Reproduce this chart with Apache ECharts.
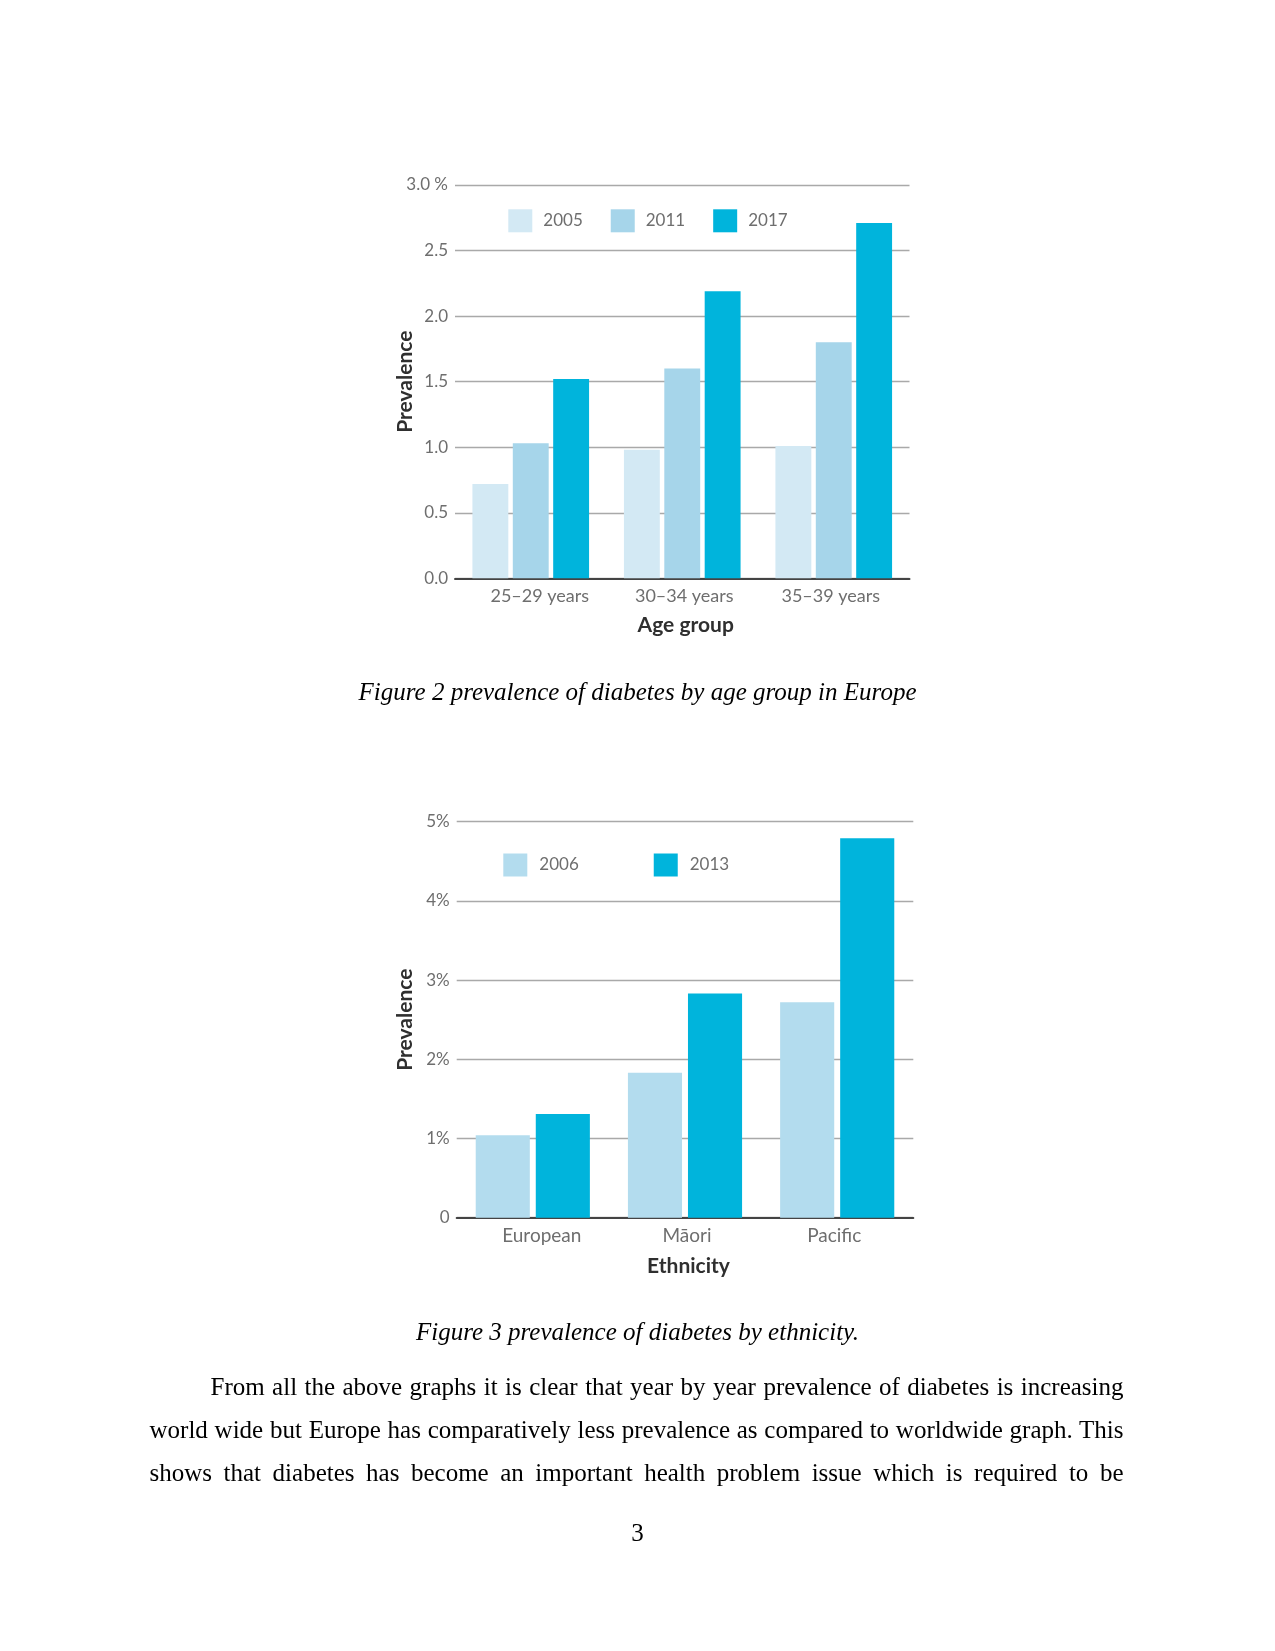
<!DOCTYPE html>
<html>
<head>
<meta charset="utf-8">
<script src="https://cdn.jsdelivr.net/npm/echarts@6/dist/echarts.min.js"></script>
<style>
  html, body { margin: 0; padding: 0; background: #ffffff; }
  #page { position: relative; width: 1275px; height: 1651px; overflow: hidden; }
  #chart { position: absolute; left: 0; top: 0; width: 1275px; height: 1651px; }
  .serif { position: absolute; font-family: "Liberation Serif", "DejaVu Serif", serif; font-size: 25px; color: #000; white-space: nowrap; }
  .caption { font-style: italic; left: 0; width: 1275px; text-align: center; }
  .pagenum { left: 0; width: 1275px; text-align: center; }
  .line { left: 149.5px; width: 974px; text-align: justify; text-align-last: justify; }
</style>
</head>
<body>
<div id="page">
  <div id="chart"></div>
  <div class="serif caption" style="top:678px;">Figure 2 prevalence of diabetes by age group in Europe</div>
  <div class="serif caption" style="top:1318px;">Figure 3 prevalence of diabetes by ethnicity.</div>
  <div class="serif line" style="top:1373px; left:210.5px; width:913px;">From all the above graphs it is clear that year by year prevalence of diabetes is increasing</div>
  <div class="serif line" style="top:1416px;">world wide but Europe has comparatively less prevalence as compared to worldwide graph. This</div>
  <div class="serif line" style="top:1459px;">shows that diabetes has become an important health problem issue which is required to be</div>
  <div class="serif pagenum" style="top:1519px;">3</div>
</div>
<script>
// ---------- Figure 2 data ----------
const ageGroups = ['25–29 years', '30–34 years', '35–39 years'];
const years1 = ['2005', '2011', '2017'];
const prev2005 = [0.72, 0.98, 1.01];
const prev2011 = [1.03, 1.60, 1.80];
const prev2017 = [1.52, 2.19, 2.71];
const yTicks1 = ['0.0', '0.5', '1.0', '1.5', '2.0', '2.5', '3.0 %'];

// ---------- Figure 3 data ----------
const ethnicities = ['European', 'Māori', 'Pacific'];
const years2 = ['2006', '2013'];
const prev2006 = [1.04, 1.83, 2.72];
const prev2013 = [1.31, 2.83, 4.79];
const yTicks2 = ['0', '1%', '2%', '3%', '4%', '5%'];

const colors1 = ['#d3e9f4', '#a6d5ea', '#00b4dc'];
const colors2 = ['#b3dcee', '#00b4dc'];

const FONT = 'Lato';
const labelColor = '#6e6e6e';
const nameColor = '#2f2f2f';

// small horizontal nudges of category labels as placed in the original artwork
const labelShift = [9, 2, -3];

const chart = echarts.init(document.getElementById('chart'), null, { renderer: 'canvas' });

function yAxisCfg(gridIndex, max, interval, ticks, nameGap) {
  return {
    type: 'value', gridIndex: gridIndex, min: 0, max: max, interval: interval,
    name: 'Prevalence', nameLocation: 'middle', nameRotate: 90, nameGap: nameGap,
    nameMoveOverlap: false,
    nameTextStyle: { fontFamily: FONT, fontWeight: 'bold', fontSize: 21, color: nameColor },
    axisLine: { show: false }, axisTick: { show: false },
    axisLabel: {
      margin: 7, fontFamily: FONT, fontSize: 17, color: labelColor,
      formatter: function (v) { return ticks[Math.round(v / interval)]; }
    },
    splitLine: { show: true, lineStyle: { color: '#a9a9a9', width: 1.3 } }
  };
}

function xAxisCfg(gridIndex, cats, name, nameGap, fontSize) {
  const rich = {};
  labelShift.forEach(function (s, i) {
    rich['s' + i] = {
      fontFamily: FONT, fontSize: fontSize, color: labelColor,
      padding: s >= 0 ? [0, 0, 0, 2 * s] : [0, -2 * s, 0, 0]
    };
  });
  return {
    type: 'category', gridIndex: gridIndex, data: cats,
    name: name, nameLocation: 'middle', nameGap: nameGap,
    nameTextStyle: { fontFamily: FONT, fontWeight: 'bold', fontSize: 21, color: nameColor, padding: [0, 0, 0, 7] },
    axisLine: { show: true, lineStyle: { color: '#444', width: 2 } },
    axisTick: { show: false },
    axisLabel: {
      interval: 0, hideOverlap: false,
      margin: 9, fontFamily: FONT, fontSize: fontSize, color: labelColor, rich: rich,
      formatter: function (v, i) { return '{s' + i + '|' + v + '}'; }
    }
  };
}

const series = [];
[prev2005, prev2011, prev2017].forEach(function (d, i) {
  series.push({
    name: years1[i], type: 'bar', xAxisIndex: 0, yAxisIndex: 0, data: d,
    barGap: '12.5%', barCategoryGap: '23%',
    itemStyle: { color: colors1[i] }
  });
});
[prev2006, prev2013].forEach(function (d, i) {
  series.push({
    name: years2[i], type: 'bar', xAxisIndex: 1, yAxisIndex: 1, data: d,
    barGap: '11%', barCategoryGap: '25%',
    itemStyle: { color: colors2[i] }
  });
});

const option = {
  animation: false,
  backgroundColor: 'transparent',
  grid: [
    { left: 455, top: 185, width: 454.5, height: 393.3 },
    { left: 456.7, top: 821.7, width: 456.6, height: 396 }
  ],
  legend: [
    {
      data: years1, left: 508.3, top: 209.3, orient: 'horizontal', padding: 0,
      icon: 'rect', itemWidth: 24, itemHeight: 23, itemGap: 28,
      textStyle: { fontFamily: FONT, fontSize: 17, color: labelColor, padding: [0, 0, 0, 6] }
    },
    {
      data: years2, left: 503.3, top: 853.5, orient: 'horizontal', padding: 0,
      icon: 'rect', itemWidth: 24, itemHeight: 23, itemGap: 75,
      textStyle: { fontFamily: FONT, fontSize: 17, color: labelColor, padding: [0, 0, 0, 7] }
    }
  ],
  xAxis: [
    xAxisCfg(0, ageGroups, 'Age group', 36, 18),
    xAxisCfg(1, ethnicities, 'Ethnicity', 38, 19)
  ],
  yAxis: [
    yAxisCfg(0, 3, 0.5, yTicks1, 39),
    yAxisCfg(1, 5, 1, yTicks2, 40.5)
  ],
  series: series
};
chart.setOption(option);
</script>
</body>
</html>
